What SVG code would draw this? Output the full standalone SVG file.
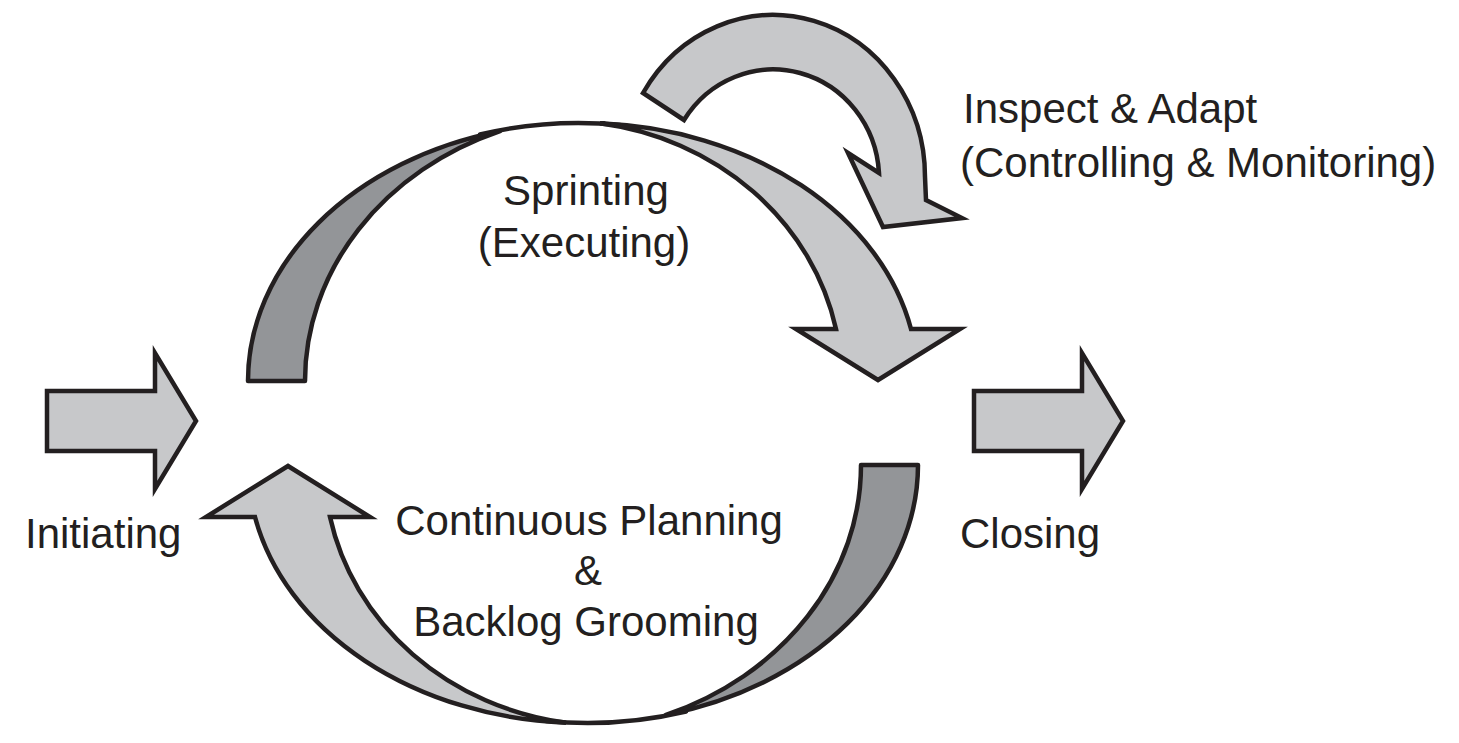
<svg xmlns="http://www.w3.org/2000/svg" width="1459" height="743" viewBox="0 0 1459 743">
  <style>
    .light { fill: #c7c8ca; stroke: #231f20; stroke-width: 4.5; stroke-linejoin: miter; }
    .dark { fill: #939598; stroke: #231f20; stroke-width: 4.5; stroke-linejoin: miter; }
    .band { stroke-linejoin: round; }
    .line { fill: none; stroke: #231f20; stroke-width: 4.5; stroke-linecap: round; }
    .lbl { font-family: "Liberation Sans", Arial, Helvetica, sans-serif; font-size: 42px; fill: #231f20; }
    .mid { text-anchor: middle; }
  </style>
  <rect width="1459" height="743" fill="#ffffff"/>

  <g id="connectors">
    <g id="sprint-arc">
      <path class="dark band" d="M 248 381 A 335 258 0 0 1 500 131.1 A 305 267.9 0 0 0 305 381 Z"/>
      <path class="light" d="M 600 123.3 A 335 258 0 0 1 911 329 L 960 329 L 878 380 L 796 329 L 836 329 A 281.9 260.3 0 0 0 600 123.3 Z" stroke-linejoin="miter"/>
      <path class="line" d="M 480 134.5 A 335 258 0 0 1 620 125"/>
    </g>
    <g id="planning-arc" transform="rotate(180 583 423)">
      <path class="dark band" d="M 248 381 A 335 258 0 0 1 500 131.1 A 305 267.9 0 0 0 305 381 Z"/>
      <path class="light" d="M 600 123.3 A 335 258 0 0 1 911 329 L 960 329 L 878 380 L 796 329 L 836 329 A 281.9 260.3 0 0 0 600 123.3 Z"/>
      <path class="line" d="M 480 134.5 A 335 258 0 0 1 620 125"/>
    </g>
    <g id="inspect-arrow">
      <path class="light" d="M 643 93 A 152 162 0 0 1 925 177 L 926 200 L 962 218 L 883 227 L 848 153 L 879 173 A 106 110 0 0 0 684 120 Z"/>
    </g>
  </g>

  <g id="initiating">
    <path class="light" d="M 47 391 L 155 391 L 155 353 L 196 421 L 155 489 L 155 451 L 47 451 Z"/>
    <text class="lbl" x="25" y="548">Initiating</text>
  </g>

  <g id="closing">
    <path class="light" d="M 974 391 L 1082 391 L 1082 353 L 1123 421 L 1082 489 L 1082 451 L 974 451 Z"/>
    <text class="lbl" x="960" y="548">Closing</text>
  </g>

  <g id="sprinting">
    <text class="lbl mid" x="586" y="205">Sprinting</text>
    <text class="lbl mid" x="584" y="257">(Executing)</text>
  </g>

  <g id="planning">
    <text class="lbl mid" x="589" y="535">Continuous Planning</text>
    <text class="lbl mid" x="588" y="585">&amp;</text>
    <text class="lbl mid" x="586" y="636">Backlog Grooming</text>
  </g>

  <g id="inspect">
    <text class="lbl" x="963" y="123">Inspect &amp; Adapt</text>
    <text class="lbl" x="960" y="177">(Controlling &amp; Monitoring)</text>
  </g>
</svg>
